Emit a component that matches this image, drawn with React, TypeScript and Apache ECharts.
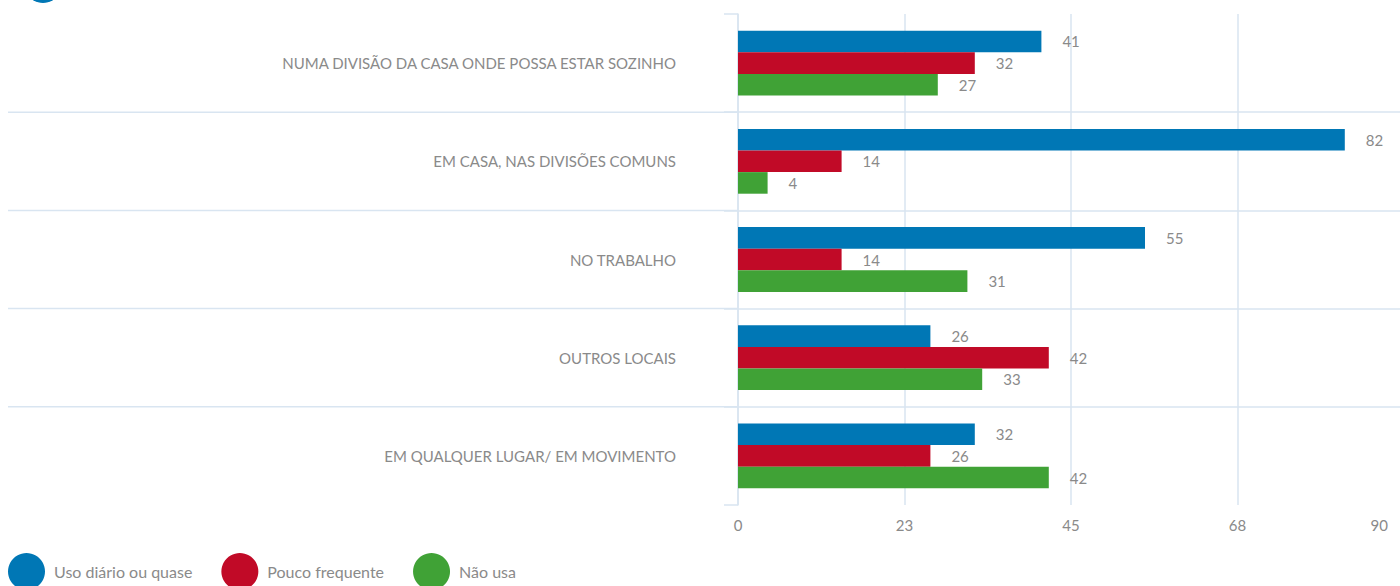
import React, { useEffect, useRef } from "react";
import * as echarts from "echarts";

const categories = [
  "NUMA DIVISÃO DA CASA ONDE POSSA ESTAR SOZINHO",
  "EM CASA, NAS DIVISÕES COMUNS",
  "NO TRABALHO",
  "OUTROS LOCAIS",
  "EM QUALQUER LUGAR/ EM MOVIMENTO",
];
const seriesNames = ["Uso diário ou quase", "Pouco frequente", "Não usa"];
const usoDiario = [41, 82, 55, 26, 32];
const poucoFrequente = [32, 14, 14, 42, 26];
const naoUsa = [27, 4, 31, 33, 42];
const colors = ["#0077B5", "#C10A27", "#40A236"];
const axisMin = 0;
const axisMax = 90;
const axisInterval = 22.5;

const FONT = "Lato";
const GRAY = "#8a8a8a";
const LINE = "#d9e5f1";

export default function App() {
  const ref = useRef<HTMLDivElement>(null);
  useEffect(() => {
    if (!ref.current) return;
    const chart = echarts.init(ref.current, undefined, { renderer: "svg" });
    const values = [usoDiario, poucoFrequente, naoUsa];
    chart.setOption({
      animation: false,
      textStyle: { fontFamily: FONT },
      grid: { left: 738, right: 0, top: 14, bottom: 81, containLabel: false },
      legend: {
        left: 8,
        top: 553,
        padding: 0,
        icon: "circle",
        itemWidth: 37,
        itemHeight: 37,
        itemGap: 29,
        data: seriesNames,
        textStyle: { color: GRAY, fontSize: 16, fontFamily: FONT, padding: [0, 0, 0, 4] },
      },
      xAxis: {
        type: "value",
        min: axisMin,
        max: axisMax,
        interval: axisInterval,
        axisLine: { show: false },
        axisTick: { show: false },
        splitLine: { show: true, lineStyle: { color: LINE, width: 1.5 } },
        axisLabel: {
          color: GRAY,
          fontSize: 15,
          margin: 12,
          alignMaxLabel: "right",
          formatter: (v: number) => (v === axisMax ? `{e|${Math.round(v)}}` : `${Math.round(v)}`),
          rich: { e: { color: GRAY, fontSize: 15, padding: [0, 16, 0, 0] } },
        },
      },
      yAxis: {
        type: "category",
        inverse: true,
        data: categories,
        axisLine: { show: true, lineStyle: { color: LINE, width: 1.5 } },
        axisTick: { show: true, length: 14, lineStyle: { color: LINE, width: 1.5 } },
        splitLine: {
          show: true,
          showMinLine: false,
          showMaxLine: false,
          lineStyle: { color: LINE, width: 1.5 },
        },
        axisLabel: { color: GRAY, fontSize: 15, margin: 62 },
      },
      series: seriesNames.map((name, i) => ({
        name,
        type: "bar",
        data: values[i],
        barGap: "0%",
        barCategoryGap: "34%",
        itemStyle: { color: colors[i] },
        label: {
          show: true,
          position: "right",
          distance: 21,
          color: GRAY,
          fontSize: 15,
          fontFamily: FONT,
        },
      })),
    });

    const x0 = chart.convertToPixel({ xAxisIndex: 0 }, axisMin) as number;
    const ys = categories.map((c) => chart.convertToPixel({ yAxisIndex: 0 }, c) as number);
    const graphics: any[] = [
      {
        type: "circle",
        shape: { cx: 43, cy: -16, r: 19 },
        style: { fill: colors[0] },
      },
    ];
    for (let i = 0; i < ys.length - 1; i++) {
      const y = (ys[i] + ys[i + 1]) / 2;
      graphics.push({
        type: "line",
        shape: { x1: 8, y1: y, x2: x0, y2: y },
        style: { stroke: LINE, lineWidth: 1.5 },
      });
    }
    chart.setOption({ graphic: graphics });

    return () => chart.dispose();
  }, []);
  return (
    <div style={{ position: "absolute", left: 0, top: 0, width: 1400, height: 586, overflow: "hidden" }}>
      <div ref={ref} style={{ width: 1404, height: 586 }} />
    </div>
  );
}
